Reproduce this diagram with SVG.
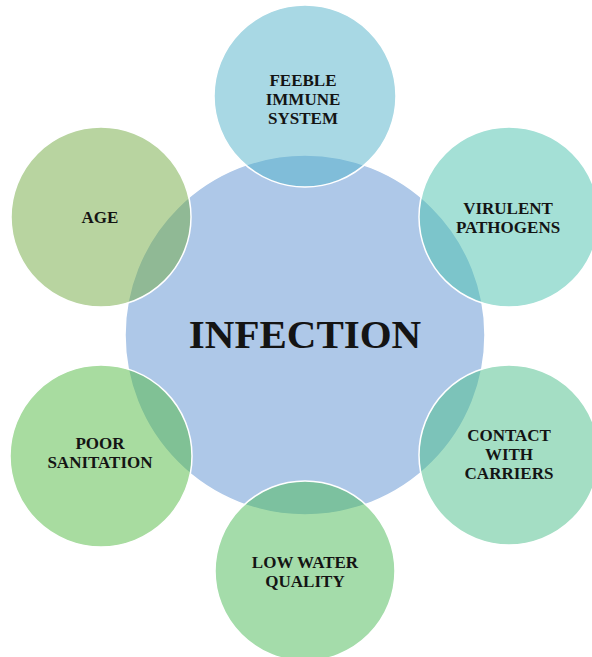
<svg xmlns="http://www.w3.org/2000/svg" width="592" height="657" viewBox="0 0 592 657">
<style>
.c{stroke:#ffffff;stroke-width:1.5}
.o{fill-opacity:0.5}
.t{font-family:"Liberation Serif","Times New Roman",serif;font-weight:bold;font-size:17px;fill:#141414;text-anchor:middle}
.big{font-size:41px}
</style>
<rect width="592" height="657" fill="#ffffff"/>
<g id="infection">
<circle class="c" cx="305" cy="335" r="180" fill="#aec8e8"/>
<text class="t big" x="305" y="348">INFECTION</text>
</g>
<g id="feeble-immune-system">
<circle class="c o" cx="305" cy="96" r="91" fill="#51b1c9"/>
<text class="t" x="303" y="86">FEEBLE</text>
<text class="t" x="303" y="105">IMMUNE</text>
<text class="t" x="303" y="124">SYSTEM</text>
</g>
<g id="virulent-pathogens">
<circle class="c o" cx="509" cy="217" r="90" fill="#49c1ad"/>
<text class="t" x="508" y="214">VIRULENT</text>
<text class="t" x="508" y="233">PATHOGENS</text>
</g>
<g id="contact-with-carriers">
<circle class="c o" cx="509" cy="455" r="90" fill="#49bd89"/>
<text class="t" x="509" y="441">CONTACT</text>
<text class="t" x="509" y="460">WITH</text>
<text class="t" x="509" y="479">CARRIERS</text>
</g>
<g id="low-water-quality">
<circle class="c o" cx="305" cy="571" r="90" fill="#49b955"/>
<text class="t" x="305" y="568">LOW WATER</text>
<text class="t" x="305" y="587">QUALITY</text>
</g>
<g id="poor-sanitation">
<circle class="c o" cx="101" cy="456" r="91" fill="#51b941"/>
<text class="t" x="100" y="449">POOR</text>
<text class="t" x="100" y="468">SANITATION</text>
</g>
<g id="age">
<circle class="c o" cx="101" cy="217" r="90" fill="#71a941"/>
<text class="t" x="100" y="223">AGE</text>
</g>
<g id="connectors"></g>
</svg>
